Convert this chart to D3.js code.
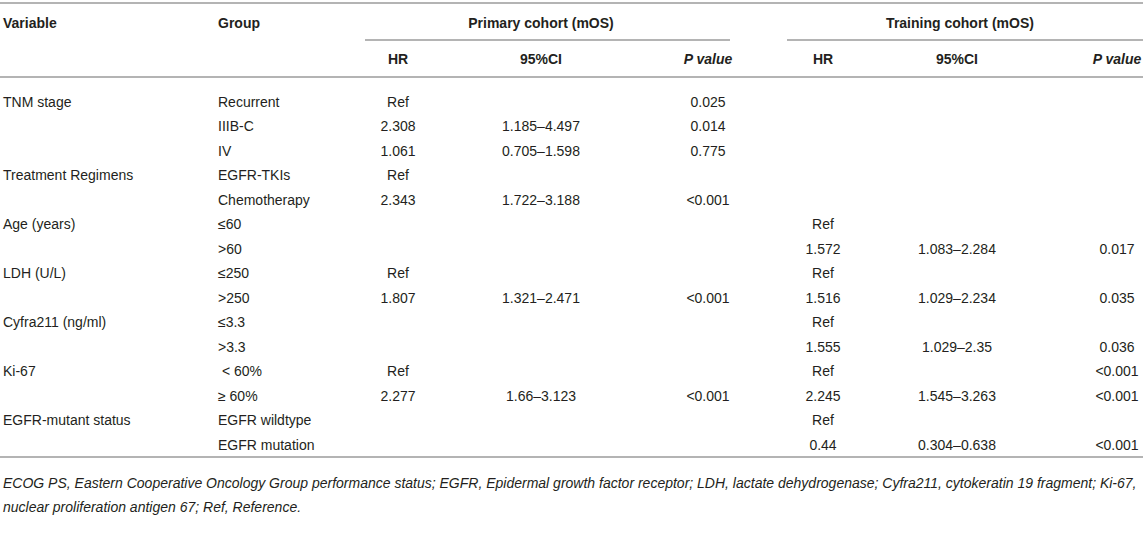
<!DOCTYPE html>
<html>
<head>
<meta charset="utf-8">
<script src="https://cdn.jsdelivr.net/npm/d3@7"></script>
<style>
  body { margin: 0; background: #fff; }
  svg text { font-family: "Liberation Sans", Arial, Helvetica, sans-serif; fill: #231f20; }
</style>
</head>
<body>
<div id="chart"></div>
<script>
// table content, one array per column
const variables = ["TNM stage", "", "", "Treatment Regimens", "", "Age (years)", "", "LDH (U/L)", "",
  "Cyfra211 (ng/ml)", "", "Ki-67", "", "EGFR-mutant status", ""];
const groups = ["Recurrent", "IIIB-C", "IV", "EGFR-TKIs", "Chemotherapy", "≤60", ">60", "≤250", ">250",
  "≤3.3", ">3.3", " < 60%", "≥ 60%", "EGFR wildtype", "EGFR mutation"];
const primaryHR = ["Ref", "2.308", "1.061", "Ref", "2.343", "", "", "Ref", "1.807", "", "", "Ref", "2.277", "", ""];
const primaryCI = ["", "1.185–4.497", "0.705–1.598", "", "1.722–3.188", "", "", "", "1.321–2.471", "", "", "", "1.66–3.123", "", ""];
const primaryP = ["0.025", "0.014", "0.775", "", "<0.001", "", "", "", "<0.001", "", "", "", "<0.001", "", ""];
const trainingHR = ["", "", "", "", "", "Ref", "1.572", "Ref", "1.516", "Ref", "1.555", "Ref", "2.245", "Ref", "0.44"];
const trainingCI = ["", "", "", "", "", "", "1.083–2.284", "", "1.029–2.234", "", "1.029–2.35", "", "1.545–3.263", "", "0.304–0.638"];
const trainingP = ["", "", "", "", "", "", "0.017", "", "0.035", "", "0.036", "<0.001", "<0.001", "", "<0.001"];

const cohorts = ["Primary cohort (mOS)", "Training cohort (mOS)"];
const subHeaders = ["HR", "95%CI", "P value"];
const footnotes = [
  "ECOG PS, Eastern Cooperative Oncology Group performance status; EGFR, Epidermal growth factor receptor; LDH, lactate dehydrogenase; Cyfra211, cytokeratin 19 fragment; Ki-67,",
  "nuclear proliferation antigen 67; Ref, Reference."
];

const width = 1143, height = 542;
const fs = 14;
const lineColor = "#b4b4b4";

const svg = d3.select("#chart").append("svg")
  .attr("width", width)
  .attr("height", height);

// row positions
const y = d3.scalePoint()
  .domain(d3.range(groups.length))
  .range([102, 445]);

// column layout: x position + anchor
const cols = [
  { data: variables, x: 3, anchor: "start" },
  { data: groups, x: 218, anchor: "start" },
  { data: primaryHR, x: 398, anchor: "middle" },
  { data: primaryCI, x: 541, anchor: "middle" },
  { data: primaryP, x: 708, anchor: "middle" },
  { data: trainingHR, x: 823, anchor: "middle" },
  { data: trainingCI, x: 957, anchor: "middle" },
  { data: trainingP, x: 1117, anchor: "middle" }
];

// rules
function rule(x1, x2, yy) {
  svg.append("line")
    .attr("x1", x1).attr("x2", x2)
    .attr("y1", yy).attr("y2", yy)
    .attr("stroke", lineColor)
    .attr("stroke-width", 2);
}
rule(0, width, 3);
rule(365, 730, 40);
rule(787, width, 40);
rule(0, width, 77);
rule(0, width, 457);

// header row 1
const h1 = 23;
svg.append("text").attr("x", 3).attr("y", h1).attr("dy", "0.35em")
  .attr("font-size", fs).attr("font-weight", "bold").text("Variable");
svg.append("text").attr("x", 218).attr("y", h1).attr("dy", "0.35em")
  .attr("font-size", fs).attr("font-weight", "bold").text("Group");
svg.selectAll("text.cohort")
  .data(cohorts)
  .enter()
  .append("text")
  .attr("class", "cohort")
  .attr("x", (d, i) => i === 0 ? 541 : 960)
  .attr("y", h1)
  .attr("dy", "0.35em")
  .attr("text-anchor", "middle")
  .attr("font-size", fs)
  .attr("font-weight", "bold")
  .text(d => d);

// header row 2 (HR / 95%CI / P value for each cohort)
const h2 = 59;
const subCols = cols.slice(2);
svg.selectAll("text.sub")
  .data(subCols)
  .enter()
  .append("text")
  .attr("class", "sub")
  .attr("x", c => c.x)
  .attr("y", h2)
  .attr("dy", "0.35em")
  .attr("text-anchor", "middle")
  .attr("font-size", fs)
  .attr("font-weight", "bold")
  .attr("font-style", (c, i) => subHeaders[i % 3] === "P value" ? "italic" : "normal")
  .text((c, i) => subHeaders[i % 3]);

// body cells
cols.forEach(c => {
  svg.append("g")
    .selectAll("text")
    .data(c.data)
    .enter()
    .append("text")
    .attr("x", c.x)
    .attr("y", (d, i) => y(i))
    .attr("dy", "0.35em")
    .attr("text-anchor", c.anchor)
    .attr("font-size", fs)
    .attr("xml:space", "preserve")
    .text(d => d);
});

// footnote
svg.selectAll("text.foot")
  .data(footnotes)
  .enter()
  .append("text")
  .attr("class", "foot")
  .attr("x", 3)
  .attr("y", (d, i) => 483 + i * 24)
  .attr("dy", "0.35em")
  .attr("font-size", 14)
  .attr("font-style", "italic")
  .text(d => d);
</script>
</body>
</html>
